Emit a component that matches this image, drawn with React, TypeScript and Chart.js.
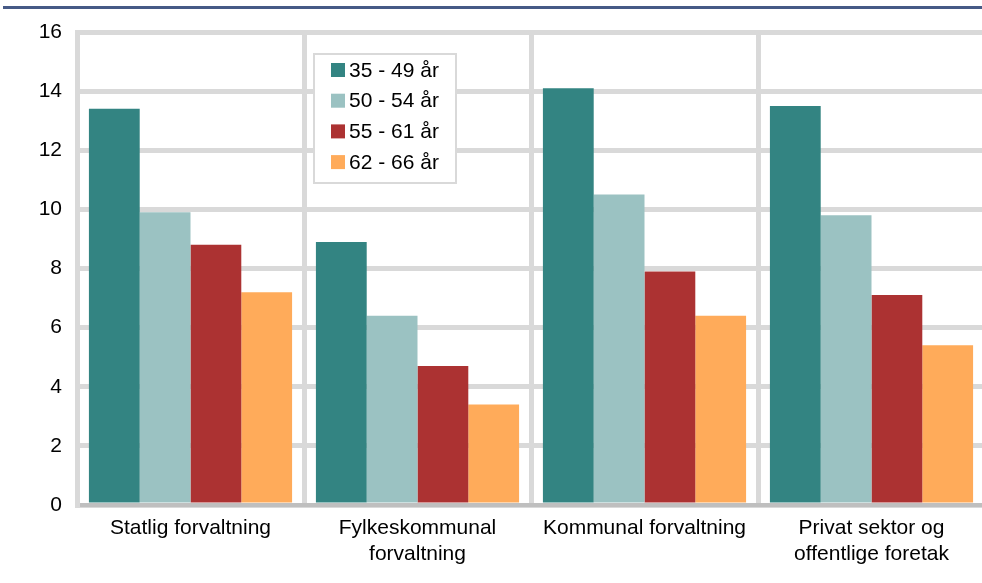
import React, { useEffect, useRef } from "react";
import { Chart, registerables } from "chart.js";

Chart.register(...registerables);

const categories: string[][] = [
  ["Statlig forvaltning"],
  ["Fylkeskommunal", "forvaltning"],
  ["Kommunal forvaltning"],
  ["Privat sektor og", "offentlige foretak"],
];
const seriesNames = ["35 - 49 år", "50 - 54 år", "55 - 61 år", "62 - 66 år"];
const age35to49 = [13.4, 8.9, 14.1, 13.5];
const age50to54 = [9.9, 6.4, 10.5, 9.8];
const age55to61 = [8.8, 4.7, 7.9, 7.1];
const age62to66 = [7.2, 3.4, 6.4, 5.4];
const seriesColors = ["#338482", "#9BC2C2", "#AC3232", "#FFAB5A"];
const yTicks = [0, 2, 4, 6, 8, 10, 12, 14, 16];

const FONT = "'Liberation Sans', Arial, sans-serif";

const decorPlugin = {
  id: "decor",
  beforeDraw(chart: any) {
    const ctx = chart.ctx;
    ctx.save();
    ctx.fillStyle = "#ffffff";
    ctx.fillRect(0, 0, chart.width, chart.height);
    ctx.fillStyle = "#465A86";
    ctx.fillRect(3, 6, chart.width, 3);
    ctx.restore();
  },
  afterDraw(chart: any) {
    const ctx = chart.ctx;
    const x0 = 314;
    const y0 = 54;
    const w = 142;
    const h = 129;
    ctx.save();
    ctx.fillStyle = "#ffffff";
    ctx.fillRect(x0, y0, w, h);
    ctx.strokeStyle = "#D9D9D9";
    ctx.lineWidth = 2;
    ctx.strokeRect(x0, y0, w, h);
    ctx.font = `21px ${FONT}`;
    ctx.textBaseline = "middle";
    ctx.textAlign = "left";
    chart.data.datasets.forEach((ds: any, i: number) => {
      const cy = 70 + i * 30.7;
      ctx.fillStyle = ds.backgroundColor;
      ctx.fillRect(331, cy - 7, 14, 14);
      ctx.fillStyle = "#000000";
      ctx.fillText(ds.label, 349, cy + 1);
    });
    ctx.restore();
  },
};

export default function App() {
  const ref = useRef<HTMLCanvasElement | null>(null);
  useEffect(() => {
    if (!ref.current) return;
    const series = [age35to49, age50to54, age55to61, age62to66];
    const chart = new Chart(ref.current, {
      type: "bar",
      data: {
        labels: categories,
        datasets: series.map((d, i) => ({
          label: seriesNames[i],
          data: d,
          backgroundColor: seriesColors[i],
          borderWidth: 0,
          categoryPercentage: 0.895,
          barPercentage: 1,
        })),
      },
      options: {
        animation: false,
        responsive: false,
        devicePixelRatio: 1,
        layout: { padding: { top: 32, right: 15, bottom: 0, left: 0 } },
        plugins: { legend: { display: false }, tooltip: { enabled: false } },
        scales: {
          x: {
            grid: {
              color: "#D9D9D9",
              lineWidth: 5,
              drawTicks: false,
              offset: true,
            },
            border: { color: "#BFBFBF", width: 4 },
            ticks: {
              color: "#000000",
              font: { family: FONT, size: 21, lineHeight: 1.24 },
              padding: 10,
              maxRotation: 0,
              autoSkip: false,
            },
            afterFit(scale: any) {
              scale.height = 78;
            },
          },
          y: {
            min: 0,
            max: 16,
            afterBuildTicks(scale: any) {
              scale.ticks = yTicks.map((v) => ({ value: v }));
            },
            grid: { color: "#D9D9D9", lineWidth: 5, drawTicks: false },
            border: { color: "#D9D9D9", width: 5 },
            ticks: {
              color: "#000000",
              font: { family: FONT, size: 21 },
              padding: 15,
            },
            afterFit(scale: any) {
              scale.width = 77;
            },
          },
        },
      },
      plugins: [decorPlugin],
    });
    return () => chart.destroy();
  }, []);
  return (
    <div
      style={{
        position: "fixed",
        left: 0,
        top: 0,
        width: 982,
        height: 583,
        overflow: "hidden",
        background: "#ffffff",
      }}
    >
      <canvas
        ref={ref}
        width={1000}
        height={583}
        style={{ width: 1000, height: 583, display: "block" }}
      />
    </div>
  );
}
